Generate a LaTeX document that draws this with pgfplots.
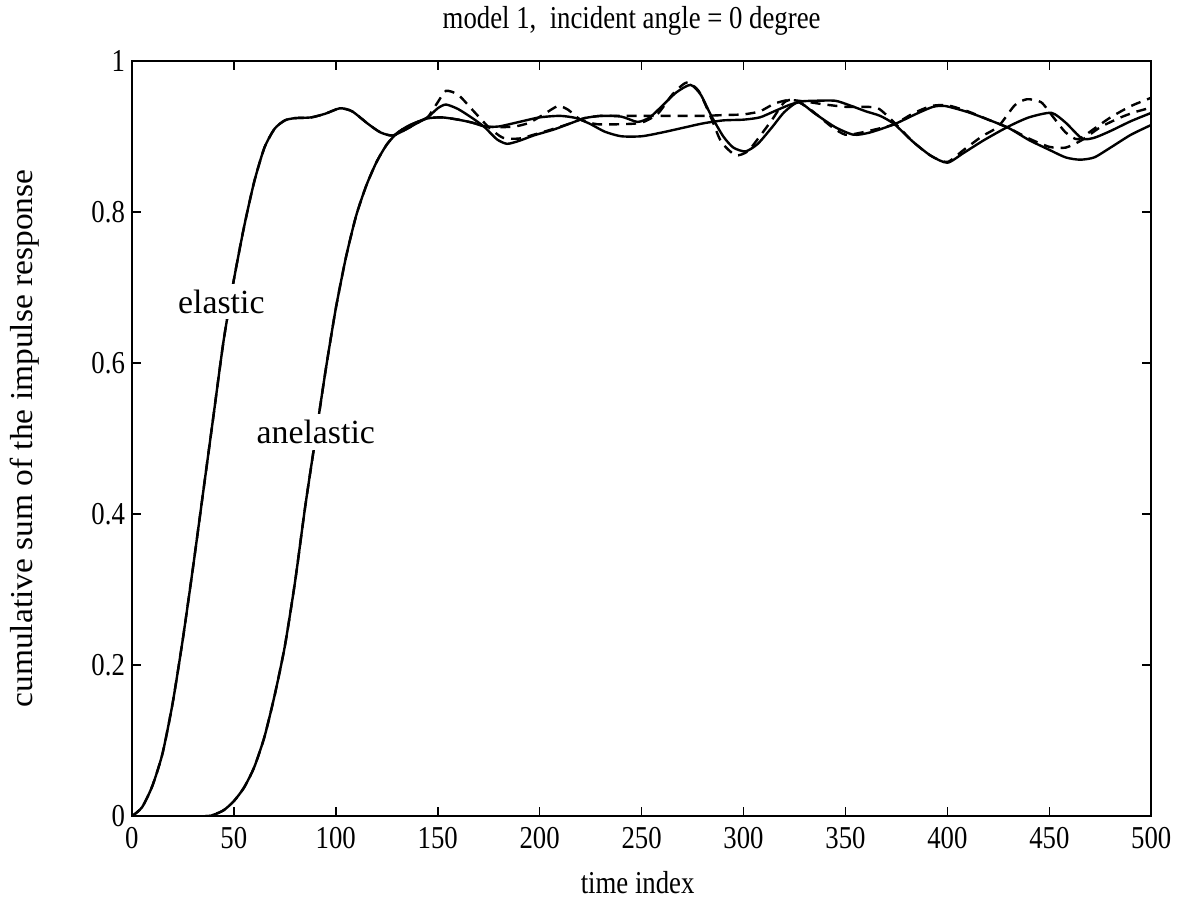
\documentclass[border=0pt]{standalone}
\usepackage{fontspec}
\setmainfont[FakeStretch=0.84]{Liberation Serif}
\newfontfamily\lblfont{Liberation Serif}
\usepackage{graphicx}
\usepackage{pgfplots}
\pgfplotsset{compat=1.18}
\usepackage{pgfplotstable}
\usetikzlibrary{calc}

\pgfplotstableread{
x y
0 0
5 0.012
10 0.04
15 0.083
20 0.15
25 0.235
30 0.33
35 0.43
40 0.53
45 0.63
50 0.71
55 0.78
60 0.84
65 0.885
70 0.91
75 0.921
80 0.924
88 0.925
95 0.93
102 0.937
108 0.933
116 0.916
122 0.905
128 0.901
135 0.91
144 0.923
152 0.925
160 0.922
167 0.918
173 0.913
180 0.913
190 0.919
200 0.925
210 0.927
218 0.924
225 0.916
232 0.906
240 0.900
250 0.900
260 0.905
270 0.911
280 0.917
290 0.921
300 0.922
308 0.925
315 0.933
322 0.941
328 0.946
335 0.947
345 0.947
352 0.941
360 0.933
367 0.927
374 0.916
383 0.893
392 0.874
400 0.865
408 0.878
418 0.895
430 0.913
440 0.925
451 0.931
458 0.918
466 0.897
472 0.898
480 0.907
490 0.920
500 0.931
}\elsolid

\pgfplotstableread{
x y
0 0
5 0.012
10 0.04
15 0.083
20 0.15
25 0.235
30 0.33
35 0.43
40 0.53
45 0.63
50 0.71
55 0.78
60 0.84
65 0.885
70 0.91
75 0.921
80 0.924
88 0.925
95 0.93
102 0.937
108 0.933
116 0.916
122 0.905
128 0.901
135 0.91
144 0.923
152 0.925
160 0.922
167 0.918
173 0.913
180 0.912
188 0.913
195 0.918
202 0.929
209 0.940
214 0.935
220 0.922
228 0.916
240 0.916
250 0.918
258 0.930
265 0.955
272 0.971
278 0.960
284 0.925
289 0.893
296 0.875
302 0.880
308 0.900
314 0.922
320 0.945
325 0.948
333 0.935
343 0.913
350 0.902
358 0.905
366 0.910
374 0.916
383 0.930
392 0.940
400 0.941
410 0.933
420 0.922
430 0.911
440 0.897
450 0.886
458 0.885
466 0.895
475 0.912
485 0.925
492 0.932
500 0.938
}\eldash

\pgfplotstableread{
x y
0 0
35 0
40 0.002
45 0.008
50 0.020
55 0.038
60 0.065
65 0.105
70 0.160
75 0.225
80 0.310
85 0.410
90 0.500
95 0.590
100 0.672
105 0.740
110 0.795
115 0.835
120 0.866
125 0.889
130 0.904
135 0.913
140 0.919
145 0.925
150 0.937
154 0.942
160 0.936
167 0.924
173 0.912
179 0.896
184 0.890
190 0.894
197 0.901
207 0.909
216 0.918
222 0.924
230 0.927
240 0.926
248 0.919
254 0.925
260 0.940
267 0.958
274 0.968
279 0.955
284 0.928
290 0.900
295 0.885
301 0.880
307 0.890
314 0.912
320 0.932
327 0.945
335 0.930
345 0.912
354 0.902
362 0.905
374 0.916
385 0.930
393 0.939
399 0.940
410 0.932
420 0.922
430 0.911
440 0.895
450 0.882
458 0.872
465 0.869
472 0.872
480 0.885
490 0.902
500 0.915
}\ansolid

\pgfplotstableread{
x y
0 0
35 0
40 0.002
45 0.008
50 0.020
55 0.038
60 0.065
65 0.105
70 0.160
75 0.225
80 0.310
85 0.410
90 0.500
95 0.590
100 0.672
105 0.740
110 0.795
115 0.835
120 0.866
125 0.889
130 0.904
135 0.913
140 0.919
145 0.925
150 0.945
154 0.960
160 0.955
167 0.935
175 0.912
182 0.898
190 0.897
197 0.902
207 0.910
216 0.918
222 0.924
230 0.927
240 0.927
250 0.927
260 0.927
270 0.927
280 0.927
290 0.928
300 0.929
308 0.933
315 0.943
322 0.948
330 0.946
340 0.942
350 0.939
358 0.939
366 0.937
374 0.918
383 0.893
392 0.874
400 0.866
408 0.882
417 0.900
425 0.913
433 0.941
439 0.949
446 0.945
452 0.925
458 0.905
464 0.896
472 0.910
480 0.925
490 0.940
500 0.951
}\andash

\begin{document}
\begin{tikzpicture}
\begin{axis}[
  name=ax,
  scale only axis,
  width=510bp, height=378bp,
  xmin=0, xmax=500, ymin=0, ymax=1,
  xtick={0,50,...,500},
  ytick={0,0.2,0.4,0.6,0.8,1},
  yticklabels={0,0.2,0.4,0.6,0.8,1},
  tick align=inside,
  major tick length=4.5bp,
  tick style={black, line width=0.8bp},
  axis line style={black, line width=1bp},
  /pgf/number format/assume math mode=true,
  tick label style={font=\fontsize{16}{16}\selectfont},
  xticklabel style={yshift=-2bp},
  clip=true,
]
\addplot[black, line width=1.2bp, smooth, tension=0.4] table {\elsolid};
\addplot[black, line width=1.2bp, smooth, tension=0.4, dash pattern=on 5bp off 3.5bp] table {\eldash};
\addplot[black, line width=1.2bp, smooth, tension=0.4] table {\ansolid};
\addplot[black, line width=1.2bp, smooth, tension=0.4, dash pattern=on 5bp off 3.5bp] table {\andash};
\node[anchor=base west, fill=white, inner sep=3bp, font=\lblfont\fontsize{17}{17}\selectfont] at (axis cs:19.5,0.666) {elastic};
\node[anchor=base west, fill=white, inner sep=3bp, font=\lblfont\fontsize{17}{17}\selectfont] at (axis cs:58,0.493) {anelastic};
\end{axis}
\node[anchor=base, font=\fontsize{16}{16}\selectfont] at ($(ax.north)+(-5bp,16bp)$) {model 1,\ \ incident angle = 0 degree};
\node[anchor=base, font=\fontsize{16}{16}\selectfont] at ($(ax.south)+(-2bp,-38.5bp)$) {time index};
\node[rotate=90, anchor=center, font=\fontsize{16}{16}\selectfont] at ($(ax.west)+(-53.5bp,0)$) {\scalebox{1.25}[1]{cumulative sum of the impulse response}};
\path ($(ax.south west)+(-66bp,-49bp)$) rectangle ($(ax.north east)+(13bp,28.5bp)$);
\end{tikzpicture}
\end{document}
